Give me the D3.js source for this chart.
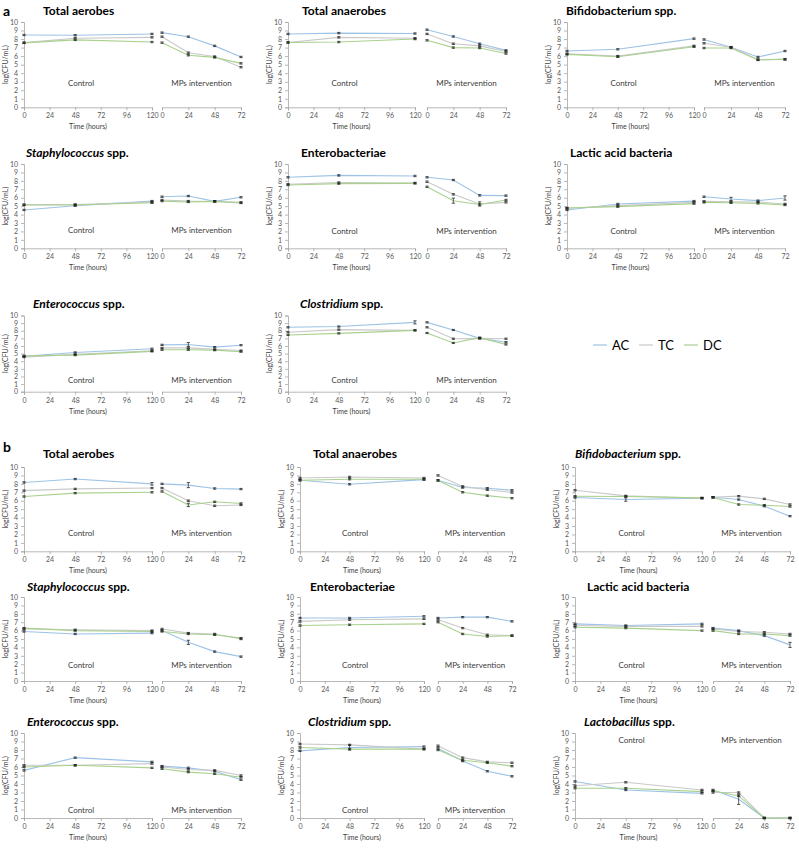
<!DOCTYPE html>
<html><head><meta charset="utf-8">
<script src="https://cdn.jsdelivr.net/npm/d3@7"></script>
<style>body{margin:0;background:#fff;} svg{display:block;font-family:Lato,"Open Sans",sans-serif;}</style>
</head><body>
<svg id="chart" width="799" height="859"></svg>
<script>
// ---------- DATA (rows: AC, TC, DC) ----------
const seriesNames = ["AC", "TC", "DC"];
const ctrlTimes = [0, 48, 120];
const mpsTimes = [0, 24, 48, 72];
const ctrlTicks = [0, 24, 48, 72, 96, 120];
const mpsTicks = [0, 24, 48, 72];
const yTicks = [0,1,2,3,4,5,6,7,8,9,10];

const a1Ctrl = [[8.48,8.45,8.6],[7.58,8.1,8.2],[7.55,7.9,7.65]];
const a1Mps  = [[8.75,8.28,7.2,5.9],[8.28,6.4,5.95,4.7],[7.58,6.1,5.85,5.15]];
const a2Ctrl = [[8.6,8.7,8.65],[7.6,8.2,8.1],[7.6,7.65,8.0]];
const a2Mps  = [[9.1,8.3,7.45,6.67],[8.6,7.45,7.2,6.55],[7.85,7.0,6.95,6.3]];
const a3Ctrl = [[6.6,6.8,8.05],[6.27,6.0,7.2],[6.2,5.92,7.1]];
const a3Mps  = [[7.95,7.05,5.9,6.6],[7.5,7.05,5.6,5.6],[6.95,6.95,5.55,5.65]];
const a4Ctrl = [[4.55,5.05,5.6],[5.18,5.2,5.5],[5.14,5.14,5.4]];
const a4Mps  = [[6.12,6.2,5.57,6.05],[5.73,5.6,5.57,5.45],[5.6,5.5,5.57,5.38]];
const a5Ctrl = [[8.42,8.65,8.58],[7.6,7.8,7.75],[7.5,7.67,7.7]];
const a5Mps  = [[8.42,8.1,6.28,6.25],[7.9,6.4,5.26,5.45],[7.3,5.65,5.2,5.73]];
const a6Ctrl = [[4.55,5.26,5.6],[4.75,5.06,5.45],[4.78,4.94,5.3]];
const a6Mps  = [[6.12,5.85,5.65,5.97],[5.57,5.53,5.5,5.26],[5.45,5.4,5.33,5.14]];
const a7Ctrl = [[4.63,5.15,5.64],[4.54,4.9,5.37],[4.71,4.8,5.29]];
const a7Mps  = [[6.15,6.2,5.85,6.1],[5.75,5.75,5.55,5.4],[5.5,5.5,5.45,5.25]];
const a8Ctrl = [[8.45,8.55,9.1],[7.8,8.15,8.05],[7.45,7.65,8.05]];
const a8Mps  = [[9.1,8.1,7.0,6.5],[8.45,6.95,7.0,6.95],[7.7,6.4,7.1,6.2]];
const b1Ctrl = [[8.17,8.57,8.0],[7.2,7.4,7.5],[6.5,6.9,7.0]];
const b1Mps  = [[8.0,7.85,7.45,7.38],[7.5,6.0,5.4,5.5],[7.1,5.5,5.87,5.67]];
const b2Ctrl = [[8.43,7.95,8.5],[8.7,8.82,8.7],[8.43,8.55,8.55]];
const b2Mps  = [[8.43,7.56,7.48,7.24],[9.0,7.7,7.3,6.97],[8.4,7.0,6.6,6.3]];
const b3Ctrl = [[6.38,6.14,6.3],[7.24,6.57,6.3],[6.53,6.5,6.34]];
const b3Mps  = [[6.42,6.14,5.35,4.17],[6.42,6.54,6.22,5.55],[6.38,5.55,5.47,5.31]];
const b4Ctrl = [[5.9,5.6,5.7],[6.2,6.1,6.0],[6.3,6.0,5.9]];
const b4Mps  = [[6.0,4.6,3.5,2.9],[6.2,5.7,5.6,5.0],[5.9,5.6,5.5,5.1]];
const b5Ctrl = [[7.5,7.5,7.7],[7.1,7.3,7.4],[6.6,6.7,6.8]];
const b5Mps  = [[7.5,7.6,7.6,7.1],[7.3,6.3,5.5,5.4],[7.0,5.6,5.3,5.4]];
const b6Ctrl = [[6.8,6.6,6.8],[6.6,6.5,6.5],[6.4,6.3,6.0]];
const b6Mps  = [[6.3,6.0,5.4,4.3],[6.2,5.9,5.8,5.6],[6.0,5.6,5.6,5.4]];
const b7Ctrl = [[5.6,7.1,6.6],[6.2,6.2,6.4],[6.0,6.2,5.9]];
const b7Mps  = [[6.1,5.9,5.5,4.5],[6.0,5.7,5.6,5.0],[5.8,5.4,5.2,4.8]];
const b8Ctrl = [[7.9,8.3,8.4],[8.7,8.6,8.1],[8.3,8.1,8.1]];
const b8Mps  = [[8.2,6.7,5.5,4.9],[8.5,7.1,6.6,6.5],[8.0,6.8,6.5,6.1]];
const b9Ctrl = [[4.3,3.3,2.9],[3.8,4.2,3.3],[3.5,3.5,3.1]];
const b9Mps  = [[3.3,2.2,0,0],[3.0,3.0,0,0],[3.2,2.6,0,0]];

const defaultErr = 0.08;
// [panel, segment, series, index, error]
const bigErrors = [
  ["a5","mps",2,1,0.3],["a5","mps",1,2,0.25],["a6","mps",0,1,0.2],["a6","mps",0,3,0.25],
  ["a7","mps",0,1,0.25],["a8","ctrl",0,2,0.2],["b1","mps",0,1,0.3],["b1","mps",2,1,0.2],
  ["b1","ctrl",0,2,0.15],["b4","mps",0,1,0.25],["b6","mps",0,3,0.3],["b9","mps",0,1,0.6],
  ["b3","ctrl",0,1,0.2],["b8","ctrl",0,1,0.3]
];

// ---------- LAYOUT ----------
const colors = {AC:"#9dc3e6", TC:"#c9c9c9", DC:"#a9d18e"};
const colA = [[24,152,162,241],[288,415,427,506],[567,694,704,785]];
const colB = [[24,152,162,241],[300,424,438,512],[575,702,713,790]];
const rowA = [[22,107.3],[164,248.3],[315.5,391.7]];
const rowB = [[467,551.3],[597,681],[733,818]];

const panels = [
  {id:"a1", t:[["Total aerobes",0]], c:a1Ctrl, m:a1Mps, col:colA[0], row:rowA[0], tx:43, ty:15, ly:83},
  {id:"a2", t:[["Total anaerobes",0]], c:a2Ctrl, m:a2Mps, col:colA[1], row:rowA[0], tx:302, ty:15, ly:83},
  {id:"a3", t:[["Bifidobacterium spp.",0]], c:a3Ctrl, m:a3Mps, col:colA[2], row:rowA[0], tx:566, ty:15, ly:83},
  {id:"a4", t:[["Staphylococcus",1],[" spp.",0]], c:a4Ctrl, m:a4Mps, col:colA[0], row:rowA[1], tx:26, ty:157, ly:230},
  {id:"a5", t:[["Enterobacteriae",0]], c:a5Ctrl, m:a5Mps, col:colA[1], row:rowA[1], tx:301, ty:157, ly:231},
  {id:"a6", t:[["Lactic acid bacteria",0]], c:a6Ctrl, m:a6Mps, col:colA[2], row:rowA[1], tx:570, ty:157, ly:231},
  {id:"a7", t:[["Enterococcus",1],[" spp.",0]], c:a7Ctrl, m:a7Mps, col:colA[0], row:rowA[2], tx:33, ty:308, ly:380},
  {id:"a8", t:[["Clostridium",1],[" spp.",0]], c:a8Ctrl, m:a8Mps, col:colA[1], row:rowA[2], tx:300, ty:308, ly:380},
  {id:"b1", t:[["Total aerobes",0]], c:b1Ctrl, m:b1Mps, col:colB[0], row:rowB[0], tx:43, ty:458, ly:533},
  {id:"b2", t:[["Total anaerobes",0]], c:b2Ctrl, m:b2Mps, col:colB[1], row:rowB[0], tx:313, ty:458, ly:533},
  {id:"b3", t:[["Bifidobacterium",1],[" spp.",0]], c:b3Ctrl, m:b3Mps, col:colB[2], row:rowB[0], tx:575, ty:458, ly:533},
  {id:"b4", t:[["Staphylococcus",1],[" spp.",0]], c:b4Ctrl, m:b4Mps, col:colB[0], row:rowB[1], tx:27, ty:591, ly:665},
  {id:"b5", t:[["Enterobacteriae",0]], c:b5Ctrl, m:b5Mps, col:colB[1], row:rowB[1], tx:310, ty:591, ly:665},
  {id:"b6", t:[["Lactic acid bacteria",0]], c:b6Ctrl, m:b6Mps, col:colB[2], row:rowB[1], tx:587, ty:591, ly:665},
  {id:"b7", t:[["Enterococcus",1],[" spp.",0]], c:b7Ctrl, m:b7Mps, col:colB[0], row:rowB[2], tx:27, ty:726, ly:810},
  {id:"b8", t:[["Clostridium",1],[" spp.",0]], c:b8Ctrl, m:b8Mps, col:colB[1], row:rowB[2], tx:308, ty:726, ly:810},
  {id:"b9", t:[["Lactobacillus",1],[" spp.",0]], c:b9Ctrl, m:b9Mps, col:colB[2], row:rowB[2], tx:584, ty:726, ly:740}
];

const svg = d3.select("#chart");
const axisColor = "#a6a6a6", labelColor = "#595959";

svg.append("text").attr("x",3).attr("y",16).attr("font-size",14).attr("font-weight","bold").text("a");
svg.append("text").attr("x",3).attr("y",452).attr("font-size",14).attr("font-weight","bold").text("b");

function errFor(id, seg, s, i){
  const f = bigErrors.find(e => e[0]===id && e[1]===seg && e[2]===s && e[3]===i);
  return f ? f[4] : defaultErr;
}

panels.forEach(p => {
  const [x0, x1, m0, m1] = p.col;
  const [yTop, yBot] = p.row;
  const y = d3.scaleLinear().domain([0,10]).range([yBot, yTop]);
  const xc = d3.scaleLinear().domain([0,120]).range([x0, x1]);
  const xm = d3.scaleLinear().domain([0,72]).range([m0, m1]);
  const g = svg.append("g");

  // title
  const t = g.append("text").attr("x", p.tx).attr("y", p.ty).attr("font-size", 12).attr("font-weight","bold").attr("fill","#000");
  p.t.forEach(([s, it]) => t.append("tspan").attr("font-style", it ? "italic" : "normal").text(s));

  // axes
  const ya = g.append("g").attr("transform", `translate(${x0},0)`)
    .call(d3.axisLeft(y).tickValues(yTicks).tickSize(3).tickPadding(3));
  const xa = g.append("g").attr("transform", `translate(0,${yBot})`)
    .call(d3.axisBottom(xc).tickValues(ctrlTicks).tickSize(3).tickPadding(3));
  const xb = g.append("g").attr("transform", `translate(0,${yBot})`)
    .call(d3.axisBottom(xm).tickValues(mpsTicks).tickSize(3).tickPadding(3));
  [ya, xa, xb].forEach(a => {
    a.selectAll("path,line").attr("stroke", axisColor).attr("stroke-width", 0.8);
    a.selectAll("text").attr("fill", labelColor).attr("font-size", 7).attr("font-family","Lato, sans-serif");
  });

  // labels
  g.append("text").attr("transform", `translate(${x0-16.5},${(yTop+yBot)/2}) rotate(-90)`)
    .attr("text-anchor","middle").attr("font-size",7).attr("fill","#404040").text("log(CFU/mL)");
  g.append("text").attr("x", (x0+x1)/2).attr("y", yBot+22).attr("text-anchor","middle")
    .attr("font-size",7).attr("fill","#404040").text("Time (hours)");
  g.append("text").attr("x", (x0+x1)/2 - 7).attr("y", p.ly+3).attr("text-anchor","middle")
    .attr("font-size",8).attr("fill","#404040").text("Control");
  g.append("text").attr("x", (m0+m1)/2).attr("y", p.ly+3).attr("text-anchor","middle")
    .attr("font-size",8).attr("fill","#404040").text("MPs intervention");

  // lines
  const segs = [["ctrl", p.c, ctrlTimes, xc], ["mps", p.m, mpsTimes, xm]];
  segs.forEach(([seg, data, times, x]) => {
    data.forEach((vals, s) => {
      const pts = vals.map((v,i) => [times[i], v]);
      g.append("path").datum(pts)
        .attr("fill","none").attr("stroke", colors[seriesNames[s]]).attr("stroke-width", 1.1)
        .attr("d", d3.line().x(d => x(d[0])).y(d => y(d[1])));
    });
  });
  // error bars
  segs.forEach(([seg, data, times, x]) => {
    data.forEach((vals, s) => {
      vals.forEach((v, i) => {
        const e = errFor(p.id, seg, s, i);
        const cx = x(times[i]);
        g.append("line").attr("x1",cx).attr("x2",cx).attr("y1",y(v-e)).attr("y2",y(v+e)).attr("stroke","#222").attr("stroke-width",0.7);
        [v-e, v+e].forEach(b => g.append("line").attr("x1",cx-1.6).attr("x2",cx+1.6).attr("y1",y(b)).attr("y2",y(b)).attr("stroke","#222").attr("stroke-width",0.8));
      });
    });
  });
});

// legend
const legend = svg.append("g");
const legX = [593, 639, 684];
seriesNames.forEach((n, i) => {
  legend.append("line").attr("x1", legX[i]).attr("x2", legX[i]+14).attr("y1",345).attr("y2",345)
    .attr("stroke", colors[n]).attr("stroke-width",1.2);
  legend.append("text").attr("x", legX[i]+19).attr("y",350).attr("font-size",13).attr("fill","#000").text(n);
});
</script>
</body></html>
